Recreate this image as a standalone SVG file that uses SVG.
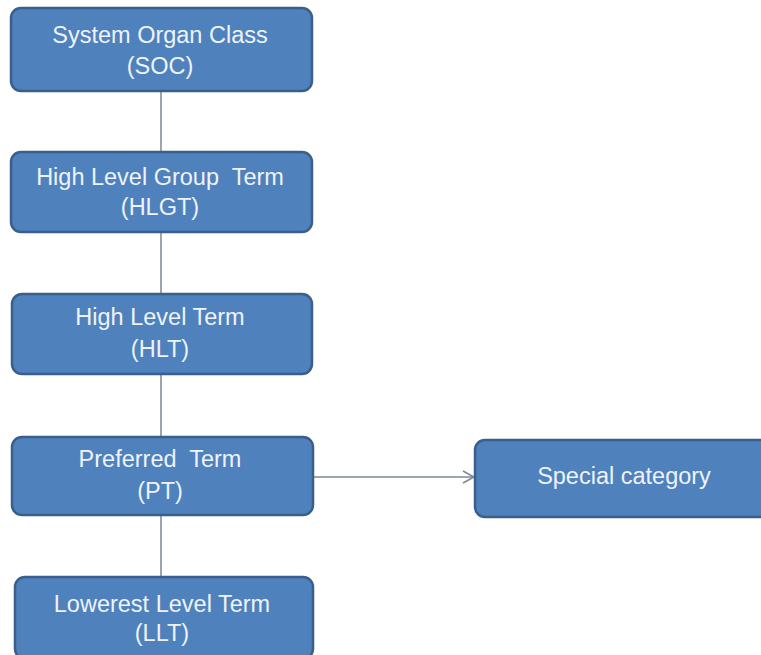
<svg xmlns="http://www.w3.org/2000/svg" width="761" height="655" viewBox="0 0 761 655">
<defs>
<style>
.box{fill:#4f81bd;stroke:#3b5f8d;stroke-width:2.5}
.t{font-family:"Liberation Sans",Arial,sans-serif;font-size:23.5px;fill:#eef3fa;text-anchor:middle;white-space:pre}
.c{stroke:#7a8896;stroke-width:1.5;fill:none}
</style>
<marker id="arr" markerWidth="14" markerHeight="14" refX="12" refY="7" orient="auto" markerUnits="userSpaceOnUse">
<path d="M1,1 L12,7 L1,13" fill="none" stroke="#7a8896" stroke-width="1.5"/>
</marker>
</defs>
<rect width="761" height="655" fill="#ffffff"/>
<g id="connectors">
<line class="c" x1="161" y1="91" x2="161" y2="152"/>
<line class="c" x1="161" y1="232" x2="161" y2="294"/>
<line class="c" x1="161" y1="374" x2="161" y2="437"/>
<line class="c" x1="161" y1="515" x2="161" y2="577"/>
<line class="c" x1="313" y1="477" x2="474" y2="477" marker-end="url(#arr)"/>
</g>
<g id="soc">
<rect class="box" x="11" y="8" width="301" height="83" rx="10"/>
<text class="t" x="160" y="43">System Organ Class</text>
<text class="t" x="160" y="74">(SOC)</text>
</g>
<g id="hlgt">
<rect class="box" x="11" y="152" width="301" height="80" rx="10"/>
<text class="t" x="160" y="185">High Level Group  Term</text>
<text class="t" x="160" y="215">(HLGT)</text>
</g>
<g id="hlt">
<rect class="box" x="12" y="294" width="300" height="80" rx="10"/>
<text class="t" x="160" y="325">High Level Term</text>
<text class="t" x="160" y="357">(HLT)</text>
</g>
<g id="pt">
<rect class="box" x="12" y="437" width="301" height="78" rx="10"/>
<text class="t" x="160" y="467">Preferred  Term</text>
<text class="t" x="160" y="499">(PT)</text>
</g>
<g id="llt">
<rect class="box" x="15" y="577" width="298" height="82" rx="10"/>
<text class="t" x="162" y="612">Lowerest Level Term</text>
<text class="t" x="162" y="641">(LLT)</text>
</g>
<g id="special">
<rect class="box" x="475" y="440" width="300" height="77" rx="10"/>
<text class="t" x="624" y="484">Special category</text>
</g>
</svg>
